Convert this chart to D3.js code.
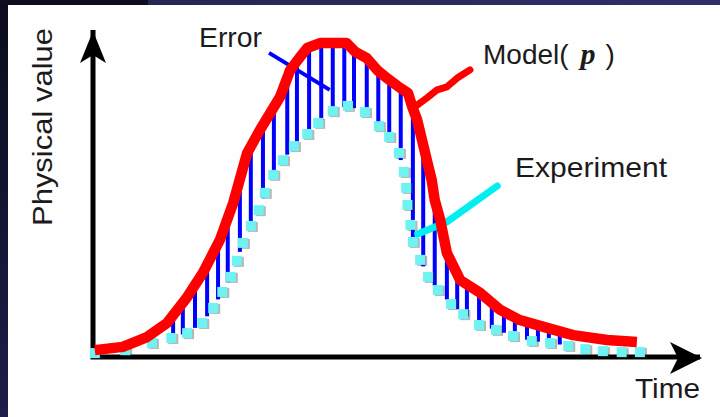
<!DOCTYPE html>
<html>
<head>
<meta charset="utf-8">
<script src="https://cdn.jsdelivr.net/npm/d3@7"></script>
<style>
  html, body { margin: 0; padding: 0; overflow: hidden; background: #121230; }
  svg { display: block; }
</style>
</head>
<body>
<svg id="chart" width="720" height="417"></svg>
<script>
// Model prediction (time, physical value)
const modelTime  = [0.3, 4.9, 8.9, 12.2, 15.5, 18.1, 20.9, 23.1, 25.4, 27.5, 30.8, 32.5, 34.1, 35.3, 37.4, 41.8, 43.2, 45.1, 46.8, 48.4, 50.6, 51.9, 52.6, 53.4, 54.2, 55.0, 55.8, 56.3, 57.2, 58.3, 60.5, 63.8, 67.1, 70.3, 74.8, 79.1, 84.7, 89.6];
const modelValue = [2.1, 3.1, 6.1, 10.4, 18.3, 25.7, 35.8, 47.1, 62.4, 69.4, 79.5, 87.8, 91.7, 94.5, 96.0, 96.0, 93.3, 91.4, 87.8, 85.3, 82.3, 80.7, 76.5, 72.5, 66.4, 60.2, 54.1, 48.0, 41.9, 31.8, 23.5, 19.6, 14.4, 11.3, 8.9, 6.7, 5.2, 4.6];

// Experimental measurements
const expTime  = [0.3, 5.3, 9.7, 12.9, 15.5, 18.0, 19.8, 21.3, 22.7, 23.7, 24.7, 26.0, 27.3, 28.3, 29.7, 31.3, 33.1, 35.3, 37.1, 39.5, 42.0, 44.8, 47.1, 48.8, 50.4, 51.2, 51.6, 51.8, 52.3, 52.7, 53.9, 55.2, 56.8, 59.0, 61.0, 63.6, 66.4, 69.2, 72.3, 75.3, 78.3, 81.1, 84.0, 87.1, 90.1];
const expValue = [1.2, 2.1, 4.3, 5.8, 7.3, 10.4, 15.0, 19.9, 24.5, 29.4, 34.9, 40.1, 44.9, 50.2, 55.7, 60.2, 64.5, 68.2, 71.6, 75.2, 76.8, 74.9, 70.6, 67.3, 62.4, 56.6, 51.7, 46.5, 40.4, 35.2, 29.7, 24.5, 20.5, 16.2, 13.1, 9.8, 8.3, 6.4, 4.9, 4.3, 3.4, 2.4, 1.8, 1.5, 1.5];

// Times at which the model/experiment error is shown
const errorTime = [13.2, 14.8, 16.8, 18.8, 20.6, 22.2, 24.2, 26.0, 28.0, 29.8, 32.0, 33.6, 35.6, 37.6, 39.5, 41.4, 43.0, 45.1, 47.0, 48.8, 50.7, 52.7, 54.4, 56.3, 58.3, 60.0, 61.6, 63.6, 65.7, 67.7, 69.5, 71.5, 73.3, 75.1, 76.9];

// Leader lines for the annotations, in data units
const errorLeader = [[29.0, 93.0], [39.0, 81.7]];
const modelLeader = [[53.0, 76.5], [55.0, 79.2], [56.7, 81.7], [58.3, 82.6], [60.0, 85.3], [62.1, 87.8]];
const expLeader   = [[53.5, 37.6], [58.3, 41.3], [66.6, 52.3]];

const axisTitles = { x: "Time", y: "Physical value" };

const svg = d3.select("#chart");
const W = 720, H = 417;

// Backdrop: dark frame with white panel
const defs = svg.append("defs");
const lg = defs.append("linearGradient").attr("id", "frameGrad")
  .attr("x1", 0).attr("y1", 0).attr("x2", 0).attr("y2", 1);
lg.append("stop").attr("offset", "0%").attr("stop-color", "#0c0c1c");
lg.append("stop").attr("offset", "100%").attr("stop-color", "#1d1d4a");
const tg = defs.append("linearGradient").attr("id", "topGrad")
  .attr("x1", 0).attr("y1", 0).attr("x2", 1).attr("y2", 0);
tg.append("stop").attr("offset", "0%").attr("stop-color", "#272552");
tg.append("stop").attr("offset", "100%").attr("stop-color", "#302e68");

svg.append("rect").attr("width", W).attr("height", H).attr("fill", "url(#frameGrad)");
svg.append("rect").attr("x", 148).attr("y", 0).attr("width", W - 148).attr("height", 5).attr("fill", "url(#topGrad)");
svg.append("rect").attr("x", 0).attr("y", 0).attr("width", 148).attr("height", 5).attr("fill", "#0e0e20");
svg.append("rect").attr("x", 8).attr("y", 5).attr("width", W - 8).attr("height", H - 5).attr("fill", "#fefefe");

// Scales
const x = d3.scaleLinear().domain([0, 100]).range([93, 700]);
const y = d3.scaleLinear().domain([0, 100]).range([357, 30]);

const toXY = (ts, vs) => ts.map((t, i) => [t, vs[i]]);
const modelPts = toXY(modelTime, modelValue);
const expPts = toXY(expTime, expValue);

function interp(ts, vs, t) {
  const i = d3.bisectRight(ts, t);
  if (i <= 0) return vs[0];
  if (i >= ts.length) return vs[vs.length - 1];
  const t0 = ts[i - 1], t1 = ts[i];
  const f = t1 === t0 ? 0 : (t - t0) / (t1 - t0);
  return vs[i - 1] + f * (vs[i] - vs[i - 1]);
}

const line = d3.line().x(d => x(d[0])).y(d => y(d[1]));

// Axes with arrowheads
svg.append("path")
  .attr("d", line([[0, 100], [0, 0], [100, 0]]))
  .attr("fill", "none").attr("stroke", "#000").attr("stroke-width", 5)
  .attr("stroke-linejoin", "miter");

const yTip = [x(0), y(100) + 1];
svg.append("path")
  .attr("d", `M${yTip[0]},${yTip[1]} L${yTip[0] - 13},${yTip[1] + 32} L${yTip[0]},${yTip[1] + 24} L${yTip[0] + 13},${yTip[1] + 32} Z`)
  .attr("fill", "#000");
const xTip = [x(100) + 2, y(0) + 1];
svg.append("path")
  .attr("d", `M${xTip[0]},${xTip[1]} L${xTip[0] - 32},${xTip[1] - 16} L${xTip[0] - 24},${xTip[1]} L${xTip[0] - 32},${xTip[1] + 16} Z`)
  .attr("fill", "#000");

// Error bars: from measured value up to the model value
svg.append("g").selectAll("line").data(errorTime).join("line")
  .attr("x1", t => x(t)).attr("x2", t => x(t))
  .attr("y1", t => y(interp(expTime, expValue, t)))
  .attr("y2", t => y(interp(modelTime, modelValue, t)))
  .attr("stroke", "#0000ff").attr("stroke-width", 4);

// Experiment markers (with a faint drop shadow)
const sq = 10;
svg.append("g").selectAll("rect").data(expPts).join("rect")
  .attr("x", d => x(d[0]) - sq / 2 + 2).attr("y", d => y(d[1]) - sq / 2 + 1)
  .attr("width", sq).attr("height", sq).attr("fill", "#333").attr("opacity", 0.35);
svg.append("g").selectAll("rect").data(expPts).join("rect")
  .attr("x", d => x(d[0]) - sq / 2).attr("y", d => y(d[1]) - sq / 2)
  .attr("width", sq).attr("height", sq).attr("fill", "#6ff2f2");

// Leader lines
svg.append("path").attr("d", line(errorLeader))
  .attr("fill", "none").attr("stroke", "#0000ff").attr("stroke-width", 4);
svg.append("path").attr("d", line(expLeader))
  .attr("fill", "none").attr("stroke", "#00f0f0").attr("stroke-width", 7)
  .attr("stroke-linecap", "round").attr("stroke-linejoin", "round");

// Model curve
svg.append("path").attr("d", line(modelPts))
  .attr("fill", "none").attr("stroke", "#ff0000").attr("stroke-width", 10.5)
  .attr("stroke-linejoin", "round");
svg.append("path").attr("d", line(modelLeader))
  .attr("fill", "none").attr("stroke", "#ff0000").attr("stroke-width", 7)
  .attr("stroke-linecap", "round").attr("stroke-linejoin", "round");

// Text
const font = "'Liberation Sans', Arial, Helvetica, sans-serif";
const txt = (s, px, py, opts = {}) => {
  const t = svg.append("text").attr("x", px).attr("y", py)
    .attr("font-family", font).attr("font-size", opts.size || 28)
    .attr("fill", "#1b1b1b").text(s);
  if (opts.len) t.attr("textLength", opts.len).attr("lengthAdjust", "spacingAndGlyphs");
  return t;
};

txt("Error", 199, 47, { len: 63 });
txt("Experiment", 515, 177, { len: 152 });
txt(axisTitles.x, 635, 398, { len: 65 });

const m = svg.append("text").attr("x", 483).attr("y", 64)
  .attr("font-family", font).attr("font-size", 28).attr("fill", "#1b1b1b");
m.append("tspan").text("Model(");
m.append("tspan").attr("dx", 12).attr("font-family", "'Liberation Serif', 'Times New Roman', serif")
  .attr("font-style", "italic").attr("font-weight", "bold").attr("font-size", 30).text("p");
m.append("tspan").attr("dx", 10).text(")");

svg.append("text")
  .attr("transform", "translate(52,127) rotate(-90)")
  .attr("text-anchor", "middle")
  .attr("font-family", font).attr("font-size", 28).attr("fill", "#1b1b1b")
  .attr("textLength", 198).attr("lengthAdjust", "spacingAndGlyphs")
  .text(axisTitles.y);
</script>
</body>
</html>
